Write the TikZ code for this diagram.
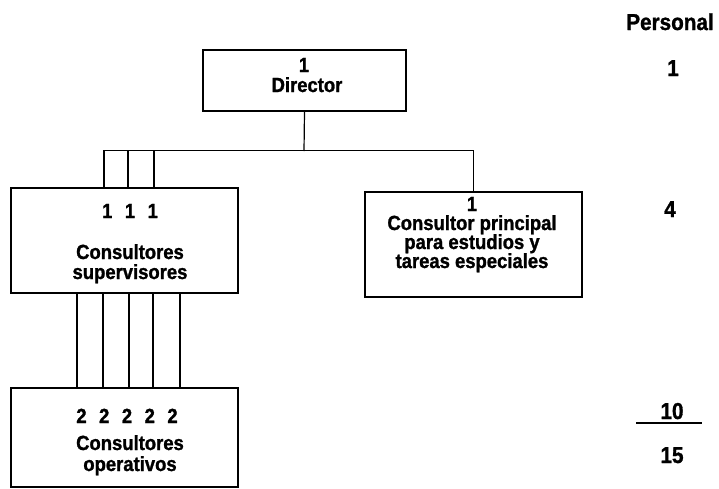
\documentclass[tikz,border=0pt]{standalone}
\usepackage{fontspec}
\setmainfont{Liberation Sans}[FakeStretch=0.9,BoldFeatures={FakeBold=1.2}]
\begin{document}
\begin{tikzpicture}[x=1pt,y=-1pt,
  box/.style={draw,line width=1.2pt,inner sep=0pt,minimum width=#1},
  txt/.style={anchor=base,inner sep=0pt,font=\fontsize{20.5}{22}\selectfont\bfseries},
  col/.style={anchor=base,inner sep=0pt,font=\fontsize{23}{25}\selectfont\bfseries},
  conn/.style={line width=1.2pt}]
\useasboundingbox (0,0) rectangle (719,488);
% boxes
\node[box=203pt,minimum height=61pt] (dir) at (304.5,80.5) {};
\node[box=227pt,minimum height=105pt] (sup) at (124.5,240.5) {};
\node[box=217pt,minimum height=105pt] (cp) at (473.5,244.5) {};
\node[box=227pt,minimum height=99pt] (op) at (124.5,437.5) {};
% texts
\node[txt] (d1) at (304,72) {1};
\node[txt] (d2) at (307,92) {Director};
\node[txt] (s1) at (130,218) {1\hspace{12.5pt}1\hspace{12.5pt}1};
\node[txt] (s2) at (130,259) {Consultores};
\node[txt] (s3) at (130,279) {supervisores};
\node[txt] (c1) at (472,211) {1};
\node[txt] (c2) at (472,230) {Consultor principal};
\node[txt] (c3) at (472,249) {para estudios y};
\node[txt] (c4) at (472,268) {tareas especiales};
\node[txt] (o1) at (127,423) {2\hspace{12.5pt}2\hspace{12.5pt}2\hspace{12.5pt}2\hspace{12.5pt}2};
\node[txt] (o2) at (130,450) {Consultores};
\node[txt] (o3) at (130,471) {operativos};
% personal column
\node[col] (p0) at (670,30) {Personal};
\node[col] (p1) at (673,76) {1};
\node[col] (p4) at (670,217) {4};
\node[col] (p10) at (672,419) {10};
\node[col] (p15) at (672,463) {15};
\coordinate (ra) at (636,423);
\coordinate (rb) at (702,423);
\draw[line width=2pt] (ra) -- (rb);
% connectors
\coordinate (bus) at (304,151);
\draw[conn] (dir.south) -- (bus);
\draw[conn] ([xshift=-20.5pt]sup.north) -- ++(0,-37) -| (cp.north);
\draw[conn] ([xshift=3.5pt]sup.north) -- ++(0,-37);
\draw[conn] ([xshift=29.5pt]sup.north) -- ++(0,-37);
\foreach \dx in {-47.5,-21.5,4.5,28.5,55.5}
  \draw[conn] ([xshift=\dx pt]sup.south) -- ([xshift=\dx pt]op.north);
\end{tikzpicture}
\end{document}
